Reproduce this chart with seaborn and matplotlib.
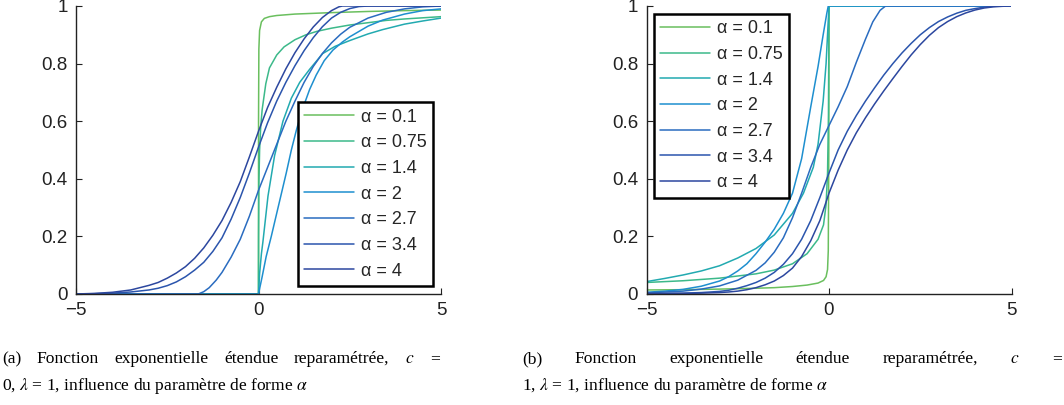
import pandas as pd
import seaborn as sns
import matplotlib
matplotlib.use("Agg")
import matplotlib.pyplot as plt

# legend labels, one per shape parameter
alpha_labels = ["α = 0.1", "α = 0.75", "α = 1.4", "α = 2", "α = 2.7", "α = 3.4", "α = 4"]
line_colors = ["#6abf5e", "#3cb98a", "#22aab0", "#1e8fcf", "#2a6cc0", "#2b55ad", "#2c479f"]

# (a) c = 0 : values
a_x01 = [-5, 0, 0.001, 0.01, 0.03, 0.08, 0.16, 0.3, 0.5, 1, 2, 3, 4, 5]
a_y01 = [0, 0, 0.6, 0.85, 0.915, 0.945, 0.957, 0.963, 0.967, 0.972, 0.977, 0.981, 0.984, 0.986]
a_x075 = [-5, 0, 0.002, 0.01, 0.03, 0.06, 0.1, 0.2, 0.3, 0.5, 0.7, 1, 1.3, 1.6, 2, 2.5, 3, 3.5, 4, 4.5, 5]
a_y075 = [0, 0, 0.2, 0.38, 0.5, 0.58, 0.64, 0.73, 0.785, 0.83, 0.858, 0.883, 0.9, 0.912, 0.923, 0.934, 0.942,
          0.95, 0.955, 0.959, 0.963]
a_x14 = [-5, 0, 0.03, 0.08, 0.12, 0.26, 0.44, 0.67, 0.9, 1.13, 1.4, 1.76, 2.1, 2.5, 3, 3.4, 4, 4.5, 5]
a_y14 = [0, 0, 0.07, 0.14, 0.18, 0.34, 0.48, 0.6, 0.68, 0.735, 0.78, 0.835, 0.86, 0.88, 0.903, 0.918, 0.937,
         0.948, 0.958]
a_x2 = [-5, 0, 0.1, 0.21, 0.35, 0.48, 0.62, 0.76, 0.9, 1.04, 1.2, 1.4, 1.58, 1.8, 2.04, 2.3, 2.5, 3, 3.4, 4, 4.5, 5]
a_y2 = [0, 0, 0.06, 0.13, 0.2, 0.27, 0.345, 0.42, 0.5, 0.57, 0.64, 0.71, 0.76, 0.81, 0.847, 0.875, 0.893, 0.93,
        0.951, 0.972, 0.984, 0.99]
a_x27 = [-5, -1.65, -1.5, -1.35, -1.16, -1, -0.75, -0.5, -0.25, 0, 0.25, 0.5, 0.75, 1, 1.25, 1.5, 1.75, 2, 2.25,
         2.5, 3, 3.5, 4, 4.5, 5]
a_y27 = [0, 0, 0.008, 0.022, 0.048, 0.075, 0.128, 0.19, 0.27, 0.36, 0.44, 0.52, 0.6, 0.67, 0.735, 0.79, 0.835,
         0.872, 0.902, 0.926, 0.958, 0.978, 0.99, 0.997, 1.0]
a_x34 = [-5, -4.5, -4, -3.5, -3, -2.75, -2.5, -2.25, -2, -1.75, -1.5, -1.25, -1, -0.75, -0.5, -0.25, 0, 0.25,
         0.5, 0.75, 1, 1.25, 1.5, 1.75, 2, 2.25, 2.5, 2.75, 3, 5]
a_y34 = [0, 0.001, 0.003, 0.007, 0.014, 0.02, 0.029, 0.042, 0.06, 0.083, 0.11, 0.148, 0.195, 0.26, 0.335, 0.42,
         0.51, 0.595, 0.67, 0.735, 0.793, 0.845, 0.89, 0.928, 0.958, 0.978, 0.991, 0.998, 1.0, 1.0]
a_x4 = [-5, -4.5, -4, -3.5, -3, -2.75, -2.5, -2.25, -2, -1.75, -1.5, -1.25, -1, -0.75, -0.5, -0.25, 0, 0.25,
        0.5, 0.75, 1, 1.25, 1.5, 1.75, 2, 2.2, 2.3, 5]
a_y4 = [0, 0.002, 0.006, 0.014, 0.03, 0.04, 0.055, 0.073, 0.095, 0.124, 0.16, 0.204, 0.255, 0.318, 0.39, 0.476,
        0.565, 0.648, 0.718, 0.782, 0.838, 0.886, 0.927, 0.96, 0.984, 0.997, 1.0, 1.0]

# (b) c = 1
b_x01 = [-5, -4, -3, -2, -1.5, -1, -0.6, -0.3, -0.15, -0.08, -0.04, -0.02, -0.005, 0, 5]
b_y01 = [0.014, 0.015, 0.017, 0.02, 0.022, 0.026, 0.031, 0.038, 0.047, 0.06, 0.085, 0.15, 0.5, 1.0, 1.0]
b_x075 = [-5, -4, -3, -2, -1.5, -1, -0.6, -0.3, -0.15, -0.08, -0.04, -0.015, 0, 5]
b_y075 = [0.04, 0.046, 0.055, 0.07, 0.083, 0.105, 0.14, 0.19, 0.24, 0.31, 0.42, 0.62, 1.0, 1.0]
b_x14 = [-5, -4.5, -4, -3.5, -3, -2.5, -2, -1.5, -1, -0.7, -0.43, -0.3, -0.16, -0.08, 0, 5]
b_y14 = [0.043, 0.054, 0.066, 0.08, 0.098, 0.125, 0.158, 0.205, 0.28, 0.35, 0.44, 0.52, 0.67, 0.8, 1.0, 1.0]
b_x2 = [-5, -4.5, -4, -3.5, -3, -2.75, -2.5, -2.25, -2, -1.75, -1.5, -1.25, -1, -0.75, -0.5, -0.3, -0.16,
        -0.06, -0.02, 5]
b_y2 = [0.006, 0.01, 0.016, 0.027, 0.045, 0.06, 0.08, 0.105, 0.14, 0.18, 0.225, 0.28, 0.35, 0.47, 0.65, 0.79,
        0.9, 0.975, 1.0, 1.0]
b_x27 = [-5, -4.5, -4, -3.5, -3, -2.5, -2, -1.75, -1.5, -1.25, -1, -0.75, -0.5, -0.25, 0, 0.25, 0.5, 0.75, 1,
         1.2, 1.4, 1.55, 5]
b_y27 = [0.004, 0.007, 0.01, 0.017, 0.028, 0.048, 0.082, 0.108, 0.145, 0.195, 0.265, 0.35, 0.44, 0.52, 0.585,
         0.65, 0.72, 0.805, 0.885, 0.945, 0.985, 1.0, 1.0]
b_x34 = [-5, -4, -3.5, -3, -2.75, -2.5, -2.25, -2, -1.75, -1.5, -1.25, -1, -0.75, -0.5, -0.25, 0, 0.25, 0.5,
         0.75, 1, 1.25, 1.5, 1.75, 2, 2.25, 2.5, 2.75, 3, 3.25, 3.5, 3.75, 4, 4.25, 4.5, 5]
b_y34 = [0.002, 0.003, 0.005, 0.009, 0.013, 0.02, 0.029, 0.04, 0.055, 0.075, 0.103, 0.14, 0.19, 0.255, 0.335,
         0.42, 0.5, 0.565, 0.62, 0.67, 0.716, 0.76, 0.8, 0.837, 0.87, 0.9, 0.925, 0.946, 0.962, 0.975, 0.985,
         0.991, 0.996, 0.999, 1.0]
b_x4 = [-5, -4, -3.5, -3, -2.75, -2.5, -2.25, -2, -1.75, -1.5, -1.25, -1, -0.75, -0.5, -0.25, 0, 0.25, 0.5,
        0.75, 1, 1.25, 1.5, 1.75, 2, 2.25, 2.5, 2.75, 3, 3.25, 3.5, 3.75, 4, 4.25, 4.5, 4.75, 5]
b_y4 = [0.001, 0.002, 0.003, 0.005, 0.007, 0.01, 0.015, 0.022, 0.032, 0.045, 0.064, 0.09, 0.13, 0.185, 0.255,
        0.35, 0.43, 0.5, 0.56, 0.612, 0.66, 0.705, 0.748, 0.79, 0.83, 0.866, 0.898, 0.925, 0.946, 0.963, 0.976,
        0.986, 0.993, 0.997, 0.999, 1.0]

x_ticks = [-5, 0, 5]
x_ticklabels = ["\u22125", "0", "5"]
y_ticks = [0, 0.2, 0.4, 0.6, 0.8, 1]
y_ticklabels = ["0", "0.2", "0.4", "0.6", "0.8", "1"]

caption_a = ["(a) Fonction exponentielle étendue reparamétrée, $c$ =",
             "0, $\\lambda$ = 1, influence du paramètre de forme $\\alpha$"]
caption_b = ["(b) Fonction exponentielle étendue reparamétrée, $c$ =",
             "1, $\\lambda$ = 1, influence du paramètre de forme $\\alpha$"]

panel_a = [(a_x01, a_y01), (a_x075, a_y075), (a_x14, a_y14), (a_x2, a_y2),
           (a_x27, a_y27), (a_x34, a_y34), (a_x4, a_y4)]
panel_b = [(b_x01, b_y01), (b_x075, b_y075), (b_x14, b_y14), (b_x2, b_y2),
           (b_x27, b_y27), (b_x34, b_y34), (b_x4, b_y4)]


def long_table(curves):
    parts = []
    for lab, (xs, ys) in zip(alpha_labels, curves):
        parts.append(pd.DataFrame({"x": xs, "y": ys, "alpha": lab}))
    return pd.concat(parts, ignore_index=True)


sns.set_style("ticks")
plt.rcParams["font.family"] = ["Liberation Sans", "DejaVu Sans"]
plt.rcParams["mathtext.fontset"] = "stix"

fig = plt.figure(figsize=(10.64, 4.05), dpi=100)
ax_a = fig.add_axes([76 / 1064, 1 - 294 / 405, 365 / 1064, 288 / 405])
ax_b = fig.add_axes([646.5 / 1064, 1 - 294 / 405, 365 / 1064, 288 / 405])

palette = dict(zip(alpha_labels, line_colors))

for ax, curves in [(ax_a, panel_a), (ax_b, panel_b)]:
    df = long_table(curves)
    sns.lineplot(data=df, x="x", y="y", hue="alpha", hue_order=alpha_labels, palette=palette,
                 estimator=None, sort=False, linewidth=1.1, ax=ax)
    ax.set_xlim(-5, 5)
    ax.set_ylim(0, 1)
    ax.set_xticks(x_ticks)
    ax.set_xticklabels(x_ticklabels)
    ax.set_yticks(y_ticks)
    ax.set_yticklabels(y_ticklabels)
    ax.set_xlabel("")
    ax.set_ylabel("")
    ax.tick_params(direction="in", length=4, width=0.8, labelsize=13.5, pad=6, colors="#222222")
    for s in ["top", "right"]:
        ax.spines[s].set_visible(False)
    for s in ["left", "bottom"]:
        ax.spines[s].set_linewidth(1.0)
        ax.spines[s].set_color("#222222")

leg_kw = dict(borderaxespad=0, fontsize=13, handlelength=2.75, handletextpad=0.4, labelspacing=0.48,
              borderpad=0.35, fancybox=False, framealpha=1, edgecolor="black")
leg_a = ax_a.legend(loc="lower right", bbox_to_anchor=(0.978, 0.028), **leg_kw)
leg_b = ax_b.legend(loc="upper left", bbox_to_anchor=(0.021, 0.972), **leg_kw)
for leg in [leg_a, leg_b]:
    leg.get_frame().set_linewidth(1.8)

# captions: first line justified between the caption edges, second line natural width
cap = dict(fontsize=12.6, family=["Liberation Serif", "DejaVu Serif"], va="center", color="black")
renderer = fig.canvas.get_renderer()


def justified(words, x0, x1, y):
    objs = [fig.text(0, y, w, ha="left", **cap) for w in words]
    widths = [o.get_window_extent(renderer).width for o in objs]
    gap = (x1 - x0 - sum(widths)) / (len(words) - 1)
    pos = x0
    for o, w in zip(objs, widths):
        o.set_x(pos / 1064)
        pos += w + gap


for lines, x0, x1 in [(caption_a, 2, 440), (caption_b, 522, 1062)]:
    justified(lines[0].split(" "), x0, x1, 1 - 359 / 405)
    fig.text(x0 / 1064, 1 - 386 / 405, lines[1], ha="left", **cap)

fig.savefig("out.png", dpi=100)
